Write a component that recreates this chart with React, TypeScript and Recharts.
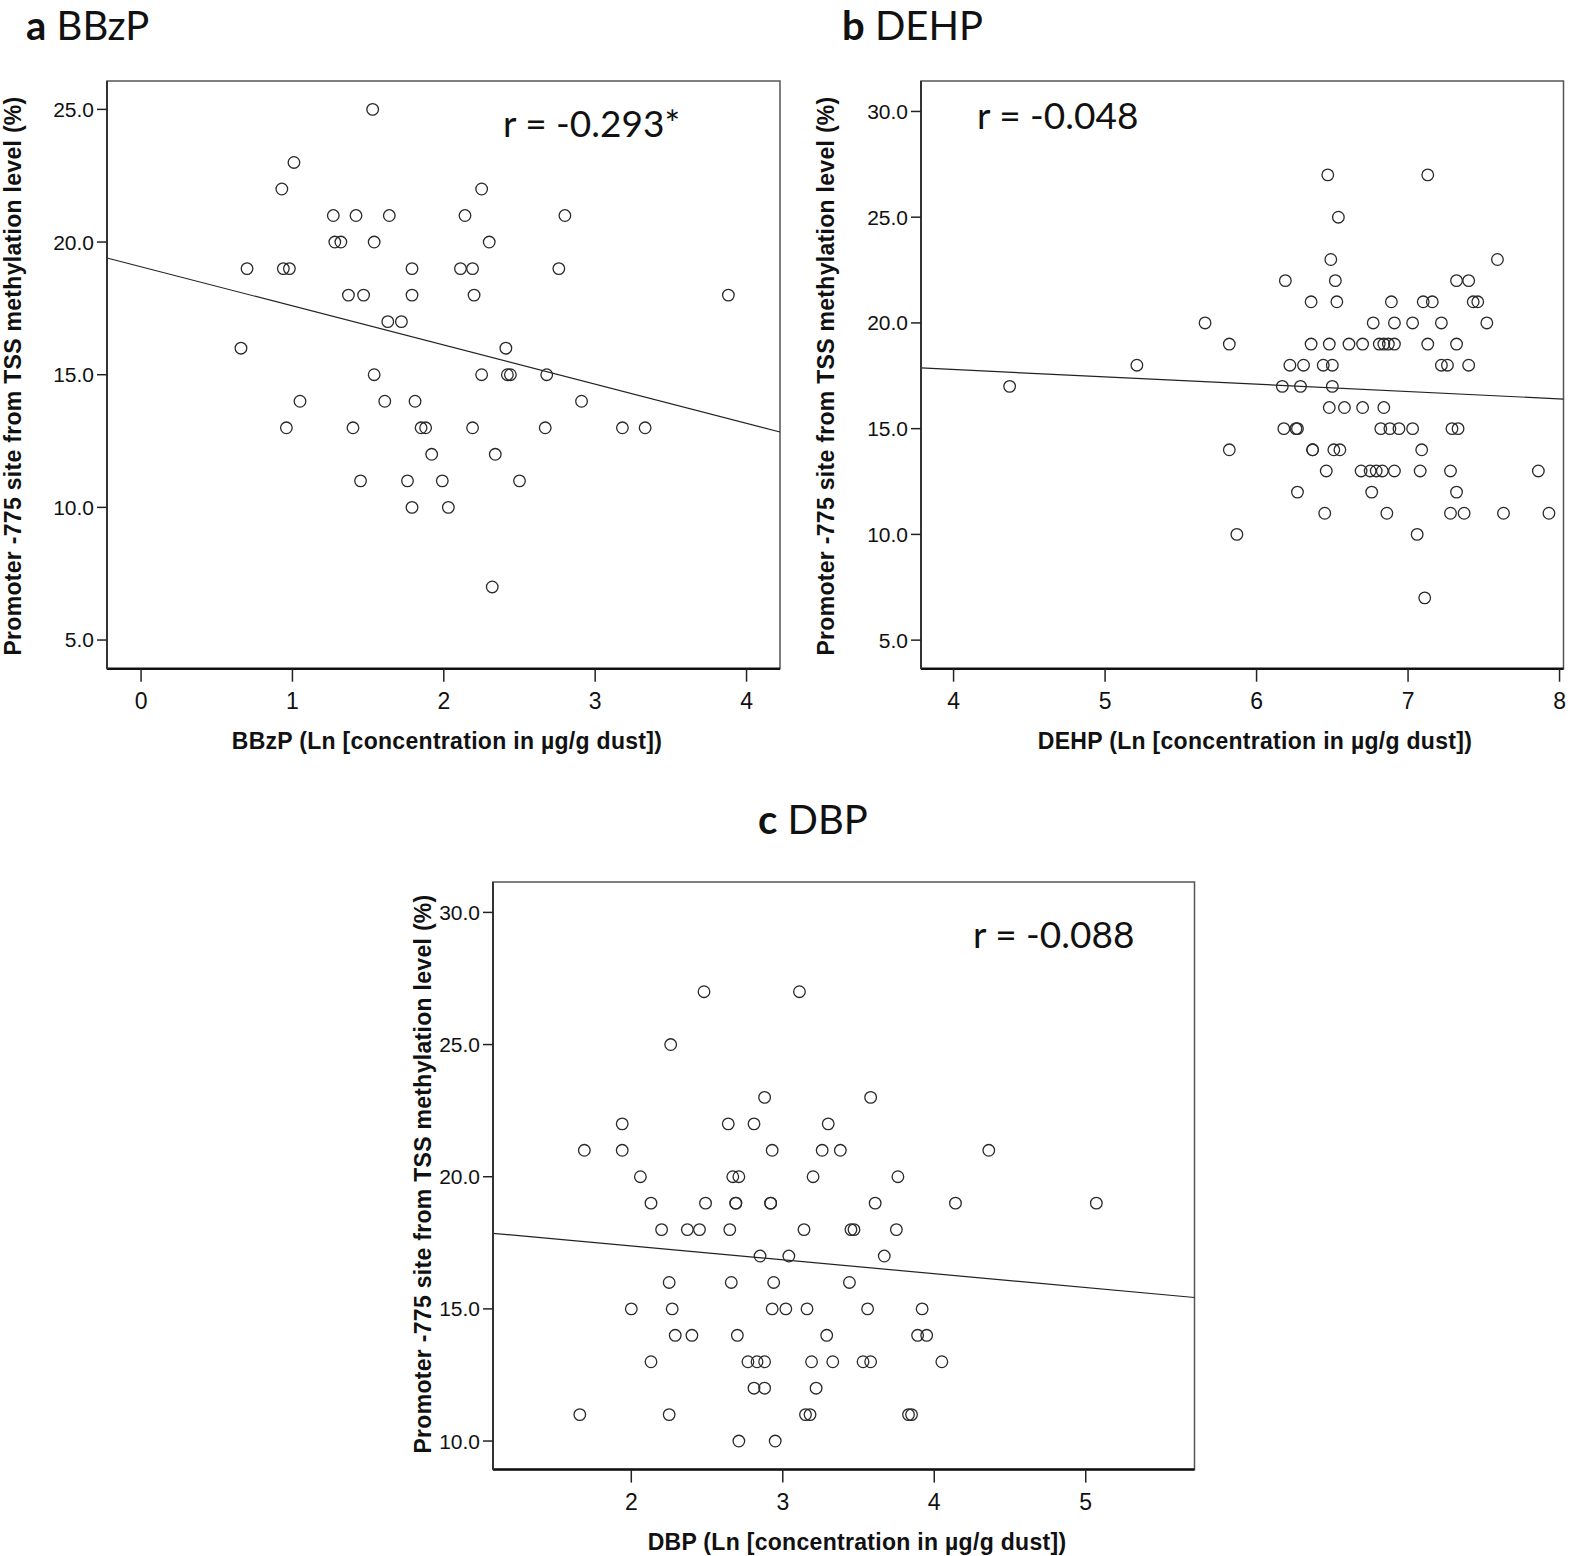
import React from "react";
import {
  ScatterChart,
  Scatter,
  XAxis,
  YAxis,
  ReferenceArea,
  ReferenceLine,
} from "recharts";

// ─── a: BBzP (one line per methylation level)
const bbzpX = [
  1.53,
  1.01,
  0.93, 2.25,
  1.27, 1.42, 1.64, 2.14, 2.8,
  1.28, 1.32, 1.54, 2.3,
  0.7, 0.94, 0.98, 1.79, 2.11, 2.19, 2.76,
  1.37, 1.47, 1.79, 2.2, 3.88,
  1.63, 1.72,
  0.66, 2.41,
  1.54, 2.25, 2.42, 2.44, 2.68,
  1.05, 1.61, 1.81, 2.91,
  0.96, 1.4, 1.85, 1.88, 2.19, 2.67, 3.18, 3.33,
  1.92, 2.34,
  1.45, 1.76, 1.99, 2.5,
  1.79, 2.03,
  2.32,
];
const bbzpY = [
  25,
  23,
  22, 22,
  21, 21, 21, 21, 21,
  20, 20, 20, 20,
  19, 19, 19, 19, 19, 19, 19,
  18, 18, 18, 18, 18,
  17, 17,
  16, 16,
  15, 15, 15, 15, 15,
  14, 14, 14, 14,
  13, 13, 13, 13, 13, 13, 13, 13,
  12, 12,
  11, 11, 11, 11,
  10, 10,
  7,
];
const bbzpFit = [
  { x: -0.225, y: 19.4 },
  { x: 4.221, y: 12.84 },
];

// ─── b: DEHP
const dehpX = [
  6.47, 7.13,
  6.54,
  6.49, 7.59,
  6.19, 6.52, 7.32, 7.4,
  6.36, 6.53, 6.89, 7.1, 7.16, 7.43, 7.46,
  5.66, 6.77, 6.91, 7.03, 7.22, 7.52,
  5.82, 6.36, 6.48, 6.61, 6.7, 6.81, 6.84, 6.87, 6.91, 7.13, 7.32,
  5.21, 6.22, 6.31, 6.44, 6.5, 7.22, 7.26, 7.4,
  4.37, 6.17, 6.29, 6.5,
  6.48, 6.58, 6.7, 6.84,
  6.18, 6.26, 6.27, 6.82, 6.88, 6.94, 7.03, 7.29, 7.33,
  5.82, 6.37, 6.37, 6.51, 6.55, 7.09,
  6.46, 6.69, 6.75, 6.79, 6.83, 6.91, 7.08, 7.28, 7.86,
  6.27, 6.76, 7.32,
  6.45, 6.86, 7.28, 7.37, 7.63, 7.93,
  5.87, 7.06,
  7.11,
];
const dehpY = [
  27, 27,
  25,
  23, 23,
  22, 22, 22, 22,
  21, 21, 21, 21, 21, 21, 21,
  20, 20, 20, 20, 20, 20,
  19, 19, 19, 19, 19, 19, 19, 19, 19, 19, 19,
  18, 18, 18, 18, 18, 18, 18, 18,
  17, 17, 17, 17,
  16, 16, 16, 16,
  15, 15, 15, 15, 15, 15, 15, 15, 15,
  14, 14, 14, 14, 14, 14,
  13, 13, 13, 13, 13, 13, 13, 13, 13,
  12, 12, 12,
  11, 11, 11, 11, 11, 11,
  10, 10,
  7,
];
const dehpFit = [
  { x: 3.785, y: 17.87 },
  { x: 8.026, y: 16.4 },
];

// ─── c: DBP
const dbpX = [
  2.48, 3.11,
  2.26,
  2.88, 3.58,
  1.94, 2.64, 2.81, 3.3,
  1.69, 1.94, 2.93, 3.26, 3.38, 4.36,
  2.06, 2.67, 2.71, 3.2, 3.76,
  2.13, 2.49, 2.69, 2.69, 2.92, 2.92, 3.61, 4.14, 5.07,
  2.2, 2.37, 2.45, 2.65, 3.14, 3.45, 3.47, 3.75,
  2.85, 3.04, 3.67,
  2.25, 2.66, 2.94, 3.44,
  2.0, 2.27, 2.93, 3.02, 3.16, 3.56, 3.92,
  2.29, 2.4, 2.7, 3.29, 3.89, 3.95,
  2.13, 2.77, 2.83, 2.88, 3.19, 3.33, 3.53, 3.58, 4.05,
  2.81, 2.88, 3.22,
  1.66, 2.25, 3.15, 3.18, 3.83, 3.85,
  2.71, 2.95,
];
const dbpY = [
  27, 27,
  25,
  23, 23,
  22, 22, 22, 22,
  21, 21, 21, 21, 21, 21,
  20, 20, 20, 20, 20,
  19, 19, 19, 19, 19, 19, 19, 19, 19,
  18, 18, 18, 18, 18, 18, 18, 18,
  17, 17, 17,
  16, 16, 16, 16,
  15, 15, 15, 15, 15, 15, 15,
  14, 14, 14, 14, 14, 14,
  13, 13, 13, 13, 13, 13, 13, 13, 13,
  12, 12, 12,
  11, 11, 11, 11, 11, 11,
  10, 10,
];
const dbpFit = [
  { x: 1.087, y: 17.86 },
  { x: 5.718, y: 15.43 },
];

// ─── tick labels
const ticksA = { x: [0, 1, 2, 3, 4], y: [5, 10, 15, 20, 25] };
const ticksB = { x: [4, 5, 6, 7, 8], y: [5, 10, 15, 20, 25, 30] };
const ticksC = { x: [2, 3, 4, 5], y: [10, 15, 20, 25, 30] };

const yTitle = "Promoter -775 site from TSS methylation level (%)";
const xTitle = (name: string) => `${name} (Ln [concentration in µg/g dust])`;

const zip = (xs: number[], ys: number[]) => xs.map((x, i) => ({ x, y: ys[i] }));

const YW = 110;
const XH = 80;
const MT = 20;
const MR = 20;
const TICK_FONT = "'Liberation Sans', Arial, sans-serif";

const Ring = (props: any) => {
  const { cx, cy } = props;
  if (cx == null || cy == null) return null;
  return <circle cx={cx} cy={cy} r={5.8} fill="none" stroke="#2a2a2a" strokeWidth={1.3} />;
};

type PanelProps = {
  left: number;
  top: number;
  width: number;
  height: number;
  xDomain: [number, number];
  yDomain: [number, number];
  xTicks: number[];
  yTicks: number[];
  data: { x: number; y: number }[];
  fit: { x: number; y: number }[];
};

const Panel = ({ left, top, width, height, xDomain, yDomain, xTicks, yTicks, data, fit }: PanelProps) => (
  <div style={{ position: "absolute", left: left - YW, top: top - MT }}>
    <ScatterChart
      width={width + YW + MR}
      height={height + MT + XH}
      margin={{ top: MT, right: MR, bottom: 0, left: 0 }}
    >
      <XAxis
        type="number"
        dataKey="x"
        domain={xDomain}
        ticks={xTicks}
        interval={0}
        allowDataOverflow
        height={XH}
        tickSize={13}
        tickMargin={11}
        axisLine={{ stroke: "#111", strokeWidth: 2.5 }}
        tickLine={{ stroke: "#222", strokeWidth: 1.5 }}
        tick={{ fontSize: 23, fill: "#111", fontFamily: TICK_FONT }}
      />
      <YAxis
        type="number"
        dataKey="y"
        domain={yDomain}
        ticks={yTicks}
        interval={0}
        allowDataOverflow
        width={YW}
        tickSize={10}
        tickMargin={3}
        tickFormatter={(v: number) => v.toFixed(1)}
        axisLine={{ stroke: "#333", strokeWidth: 2 }}
        tickLine={{ stroke: "#222", strokeWidth: 1.5 }}
        tick={{ fontSize: 21, fill: "#111", fontFamily: TICK_FONT }}
      />
      <ReferenceArea
        x1={xDomain[0]}
        x2={xDomain[1]}
        y1={yDomain[0]}
        y2={yDomain[1]}
        fill="none"
        stroke="#555"
        strokeWidth={1.5}
        ifOverflow="visible"
      />
      <ReferenceLine segment={fit} stroke="#222" strokeWidth={1.2} ifOverflow="visible" />
      <Scatter data={data} shape={Ring} isAnimationActive={false} />
    </ScatterChart>
  </div>
);

const titleFont = "Lato, 'Open Sans', sans-serif";
const labelStyle = {
  fontFamily: TICK_FONT,
  fontWeight: 700,
  fontSize: 23,
  letterSpacing: 0.3,
  fill: "#111",
} as const;

export default function App() {
  return (
    <div
      style={{
        position: "absolute",
        left: 0,
        top: 0,
        width: 1594,
        height: 1556,
        overflow: "hidden",
        background: "#fff",
        fontFamily: TICK_FONT,
      }}
    >
      <Panel
        left={106.7}
        top={81.3}
        width={673}
        height={587.7}
        xDomain={[-0.225, 4.221]}
        yDomain={[3.92, 26.07]}
        xTicks={ticksA.x}
        yTicks={ticksA.y}
        data={zip(bbzpX, bbzpY)}
        fit={bbzpFit}
      />
      <Panel
        left={921}
        top={81.3}
        width={642.5}
        height={587.7}
        xDomain={[3.785, 8.026]}
        yDomain={[3.65, 31.44]}
        xTicks={ticksB.x}
        yTicks={ticksB.y}
        data={zip(dehpX, dehpY)}
        fit={dehpFit}
      />
      <Panel
        left={493}
        top={882.4}
        width={701.5}
        height={587.6}
        xDomain={[1.087, 5.718]}
        yDomain={[8.92, 31.15]}
        xTicks={ticksC.x}
        yTicks={ticksC.y}
        data={zip(dbpX, dbpY)}
        fit={dbpFit}
      />
      <svg
        width={1594}
        height={1556}
        style={{ position: "absolute", left: 0, top: 0, pointerEvents: "none" }}
      >
        {/* panel titles */}
        <text x={26} y={40} fontFamily={titleFont} fontSize={40} fill="#111">
          <tspan fontWeight={700}>a</tspan> BBzP
        </text>
        <text x={842} y={40} fontFamily={titleFont} fontSize={40} fill="#111">
          <tspan fontWeight={700}>b</tspan> DEHP
        </text>
        <text x={758} y={834} fontFamily={titleFont} fontSize={40} fill="#111">
          <tspan fontWeight={700}>c</tspan> DBP
        </text>

        {/* correlation coefficients */}
        <text x={503} y={137} fontFamily={titleFont} fontSize={37} fill="#111">
          r = -0.293*
        </text>
        <text x={977} y={129} fontFamily={titleFont} fontSize={37} fill="#111">
          r = -0.048
        </text>
        <text x={973} y={948} fontFamily={titleFont} fontSize={37} fill="#111">
          r = -0.088
        </text>

        {/* axis titles */}
        <text x={447} y={749} textAnchor="middle" {...labelStyle}>
          {xTitle("BBzP")}
        </text>
        <text x={1255} y={749} textAnchor="middle" {...labelStyle}>
          {xTitle("DEHP")}
        </text>
        <text x={857} y={1550} textAnchor="middle" {...labelStyle}>
          {xTitle("DBP")}
        </text>
        <text
          x={12.5}
          y={376}
          transform="rotate(-90 12.5 376)"
          textAnchor="middle"
          dominantBaseline="central"
          {...labelStyle}
        >
          {yTitle}
        </text>
        <text
          x={825.5}
          y={376}
          transform="rotate(-90 825.5 376)"
          textAnchor="middle"
          dominantBaseline="central"
          {...labelStyle}
        >
          {yTitle}
        </text>
        <text
          x={423}
          y={1174}
          transform="rotate(-90 423 1174)"
          textAnchor="middle"
          dominantBaseline="central"
          {...labelStyle}
        >
          {yTitle}
        </text>
      </svg>
    </div>
  );
}
